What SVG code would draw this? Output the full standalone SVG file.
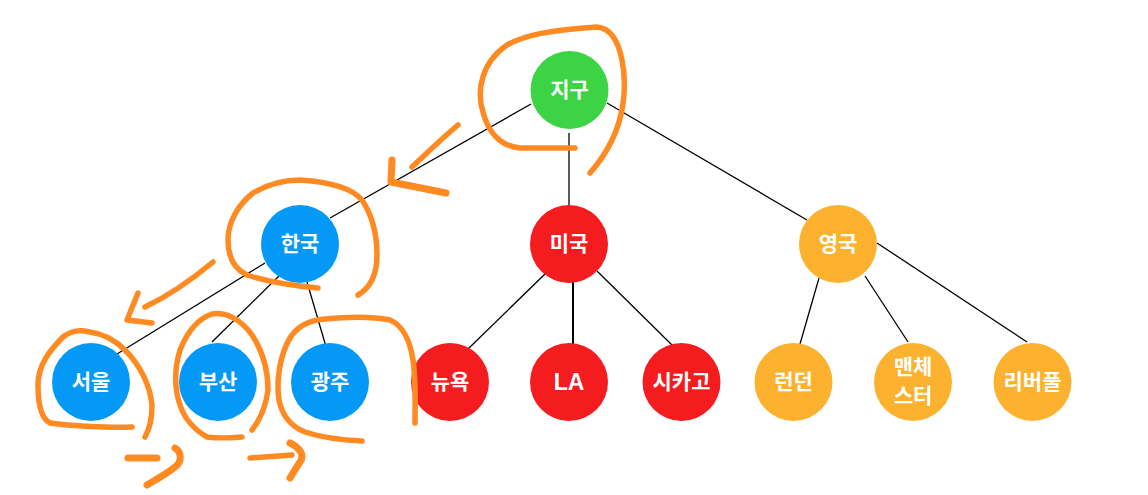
<svg xmlns="http://www.w3.org/2000/svg" width="1148" height="495" viewBox="0 0 1148 495">
<style>
.e{stroke:#000;stroke-width:1.3;fill:none}
.t{fill:#fff;font-family:"Noto Sans CJK KR","Noto Sans",sans-serif;font-weight:bold;font-size:21px;text-anchor:middle}
.g{fill:#3CD444}.b{fill:#0499F7}.r{fill:#F41C1F}.y{fill:#FDB22F}
.o{fill:none;stroke:#FF8A22;stroke-width:5.5;stroke-linecap:round;stroke-linejoin:round}
.ot{fill:none;stroke:#FF8A22;stroke-width:7;stroke-linecap:round;stroke-linejoin:round}
</style>
<rect width="1148" height="495" fill="#fff"/>
<g id="connectors">
<line class="e" x1="531" y1="104" x2="330" y2="218"/>
<line class="e" x1="569" y1="133" x2="569" y2="205"/>
<line class="e" x1="607" y1="103" x2="807" y2="220"/>
<line class="e" x1="265" y1="263" x2="117" y2="354"/>
<line class="e" x1="281" y1="274" x2="212" y2="342"/>
<line class="e" x1="307" y1="282" x2="327" y2="350"/>
<line class="e" x1="546" y1="273" x2="468" y2="349"/>
<line class="e" x1="573" y1="282" x2="573" y2="349" style="stroke-width:2"/>
<line class="e" x1="597" y1="271" x2="674" y2="347"/>
<line class="e" x1="819" y1="278" x2="800" y2="344"/>
<line class="e" x1="865" y1="276" x2="908" y2="342"/>
<line class="e" x1="877" y1="243" x2="1027" y2="342"/>
</g>
<g id="n-earth"><circle class="g" cx="569.5" cy="90" r="39"/><text class="t" x="569.5" y="97">지구</text></g>
<g id="n-korea"><circle class="b" cx="300" cy="244" r="39"/><text class="t" x="300" y="251">한국</text></g>
<g id="n-usa"><circle class="r" cx="569" cy="244" r="39"/><text class="t" x="569" y="251">미국</text></g>
<g id="n-uk"><circle class="y" cx="838" cy="244" r="39"/><text class="t" x="838" y="251">영국</text></g>
<g id="n-seoul"><circle class="b" cx="91" cy="382" r="39"/><text class="t" x="91" y="389">서울</text></g>
<g id="n-busan"><circle class="b" cx="218" cy="382" r="39"/><text class="t" x="218" y="389">부산</text></g>
<g id="n-gwangju"><circle class="b" cx="330" cy="382" r="39"/><text class="t" x="330" y="389">광주</text></g>
<g id="n-ny"><circle class="r" cx="450" cy="382" r="39"/><text class="t" x="450" y="389">뉴욕</text></g>
<g id="n-la"><circle class="r" cx="569" cy="382" r="39"/><text class="t" x="569" y="390" style="font-family:'Liberation Sans',sans-serif;font-size:23px">LA</text></g>
<g id="n-chicago"><circle class="r" cx="681.5" cy="382" r="39"/><text class="t" x="681.5" y="389">시카고</text></g>
<g id="n-london"><circle class="y" cx="793.5" cy="382" r="39"/><text class="t" x="793.5" y="389">런던</text></g>
<g id="n-manchester"><circle class="y" cx="913" cy="382" r="39"/><text class="t" x="913" y="374">맨체</text><text class="t" x="913" y="403">스터</text></g>
<g id="n-liverpool"><circle class="y" cx="1032.5" cy="382" r="39"/><text class="t" x="1032.5" y="389">리버풀</text></g>
<g id="annotations">
<path class="o" d="M575,148 L520,148 C500,146 488,132 483,112 C476,90 482,62 507,45 C525,35 550,30 597,27 C610,28 618,40 622,60 C628,90 622,120 612,140 C605,155 597,165 590,173"/>
<path class="o" d="M458,125 C440,140 425,155 412,167"/>
<path class="ot" d="M392,160 L391,182 L446,193"/>
<path class="o" d="M318,288 C295,286 268,282 247,275 C232,268 228,255 228,240 C228,222 238,205 253,193 C270,183 285,180 300,180 C330,182 352,188 362,200 C372,215 377,235 377,255 C377,275 370,288 358,295"/>
<path class="o" d="M213,262 C195,277 170,295 145,307"/>
<path class="o" d="M138,293 L127,320 L152,323"/>
<path class="o" d="M132,427 C110,428 70,426 50,423 C40,418 38,400 38,385 C38,365 50,350 63,337 C72,330 80,330 90,332 C105,334 115,340 125,350 C140,365 150,385 152,405 C152,420 149,430 145,437"/>
<path class="o" d="M242,437 C230,438 215,438 207,437 C195,430 185,420 180,405 C175,390 174,370 180,350 C188,330 200,318 212,314 C225,312 240,318 252,335 C262,350 268,370 268,390 C266,405 260,420 252,430"/>
<path class="o" d="M362,441 C340,440 320,437 305,432 C290,426 282,415 279,400 C276,380 280,355 290,338 C298,325 310,320 325,319 C345,317 370,316 390,320 C402,325 410,340 413,360 C416,380 415,405 415,423"/>
<path class="ot" d="M128,458 L157,458"/>
<path class="ot" d="M175,448 C182,452 182,462 175,467 C165,475 155,480 147,485"/>
<path class="o" d="M250,458 L292,455"/>
<path class="ot" d="M290,443 C300,448 305,455 300,462 C296,468 293,473 290,478"/>
</g>
</svg>
